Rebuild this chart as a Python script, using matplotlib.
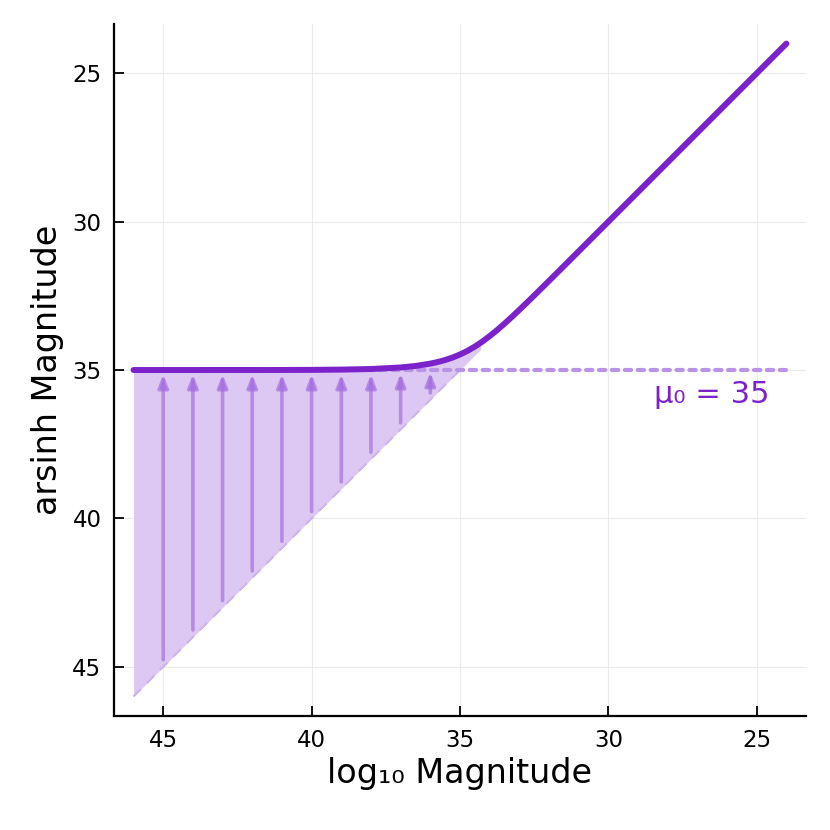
import matplotlib
matplotlib.use('Agg')
import matplotlib.pyplot as plt

# values
mag = [46, 45, 44, 43, 42, 41, 40, 39, 38, 37, 36.5, 36, 35.75, 35.5, 35.25, 35,
       34.75, 34.5, 34.25, 34, 33.75, 33.5, 33.25, 33, 32.75, 32.5, 32, 31.5, 31,
       30, 29, 28, 27, 26, 25, 24]
asinh_mag = [35.0, 35.0, 35.0, 34.999, 34.999, 34.998, 34.995, 34.986, 34.966, 34.914,
             34.864, 34.785, 34.731, 34.663, 34.58, 34.478, 34.355, 34.211, 34.045,
             33.858, 33.655, 33.437, 33.209, 32.974, 32.733, 32.489, 31.996, 31.499,
             30.9996, 30.0, 29.0, 28.0, 27.0, 26.0, 25.0, 24.0]
# shaded gap between the curve and the 1:1 line
fill_x = [46, 45, 44, 43, 42, 41, 40, 39, 38, 37, 36.5, 36, 35.75, 35.5, 35.25, 35,
          34.75, 34.5, 34.3]
fill_top = [35.0, 35.0, 35.0, 34.999, 34.999, 34.998, 34.995, 34.986, 34.966, 34.914,
            34.864, 34.785, 34.731, 34.663, 34.58, 34.478, 34.355, 34.211, 34.08]
# arrows
arrow_x = [45, 44, 43, 42, 41, 40, 39, 38, 37, 36]
arrow_from = [44.76, 43.76, 42.77, 41.77, 40.77, 39.77, 38.77, 37.77, 36.78, 35.77]
arrow_to = [35.15, 35.15, 35.15, 35.15, 35.15, 35.15, 35.15, 35.15, 35.12, 35.08]
mu0 = 35

purple = '#7B22CB'

fig = plt.figure(figsize=(8.3, 8.3), dpi=100)
ax = fig.add_axes([0.1373, 0.1373, 0.8338, 0.8338])

ax.fill_between(fill_x, fill_top, fill_x, color='#DCC8F2', lw=0)
ax.plot([46, 35], [46, 35], color='#CDB2F0', lw=1.5, ls=(0, (5, 4)))
ax.plot([46, 24], [mu0, mu0], color='#B893E6', lw=3.0, ls=(0, (1.5, 1.6)),
        dash_capstyle='round')

for x0, y0, y1 in zip(arrow_x, arrow_from, arrow_to):
    ax.annotate('', xy=(x0, y1), xytext=(x0, y0),
                arrowprops=dict(arrowstyle='-|>,head_length=0.75,head_width=0.3',
                                color='#A670E0', alpha=0.7, lw=2.6,
                                shrinkA=0, shrinkB=0))

ax.plot(mag, asinh_mag, color=purple, lw=4.3, solid_capstyle='round')

ax.text(26.5, 35.84, 'μ₀ = 35', color=purple, fontsize=22, ha='center', va='center')

ax.set_xlim(46.66, 23.34)
ax.set_ylim(46.66, 23.34)
ax.set_xticks([45, 40, 35, 30, 25])
ax.set_yticks([25, 30, 35, 40, 45])
ax.grid(True, color='#EBEBEB', lw=0.8)
ax.set_axisbelow(True)
for s in ['top', 'right']:
    ax.spines[s].set_visible(False)
for s in ['left', 'bottom']:
    ax.spines[s].set_linewidth(1.6)
ax.tick_params(direction='in', length=7, width=1.3, labelsize=16.5, pad=9)
ax.set_xlabel('log₁₀ Magnitude', fontsize=24, labelpad=4)
ax.set_ylabel('arsinh Magnitude', fontsize=24, labelpad=6)

fig.savefig('out.png', dpi=100)
